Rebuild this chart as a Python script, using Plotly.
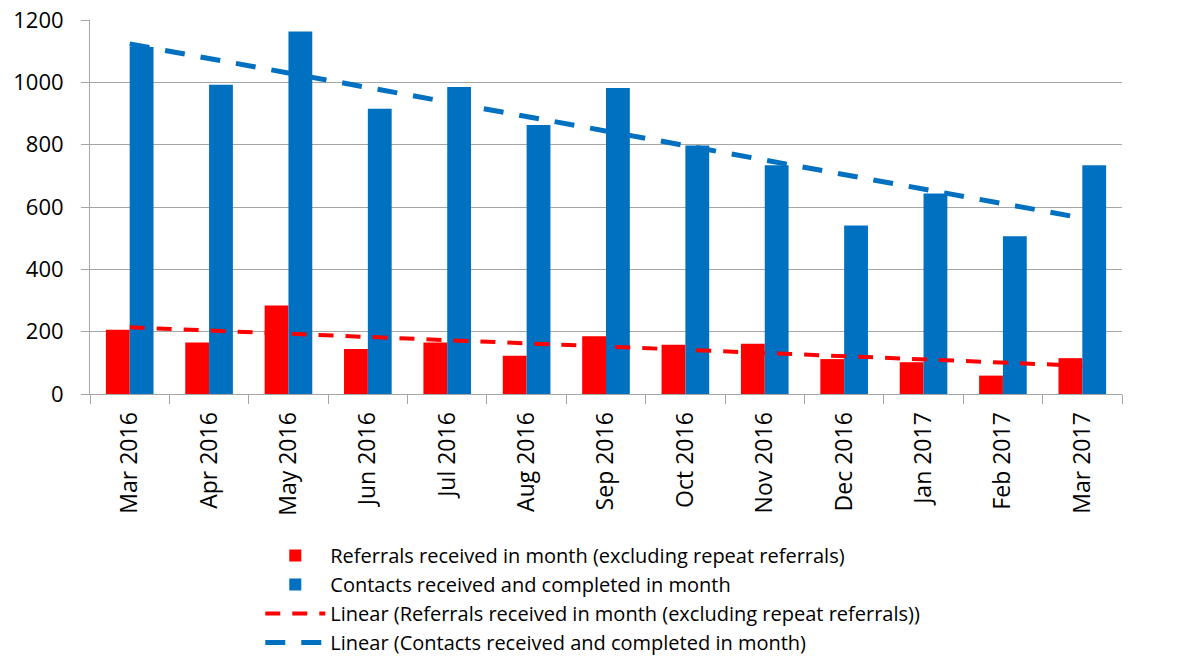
import numpy as np
import plotly.graph_objects as go

months = ["Mar 2016", "Apr 2016", "May 2016", "Jun 2016", "Jul 2016", "Aug 2016",
          "Sep 2016", "Oct 2016", "Nov 2016", "Dec 2016", "Jan 2017", "Feb 2017", "Mar 2017"]
referrals = [206, 165, 284, 144, 165, 123, 185, 158, 161, 112, 102, 59, 115]
contacts = [1113, 992, 1163, 915, 985, 863, 982, 797, 734, 541, 643, 506, 734]

RED = "#FF0000"
BLUE = "#0070C0"
GRID = "#a6a6a6"
FONT = "Open Sans"


def linear_trend(values):
    # same as Excel's linear trendline: least squares on the category index
    idx = np.arange(len(values))
    slope, intercept = np.polyfit(idx, values, 1)
    return slope * idx + intercept


fig = go.Figure()
fig.add_trace(go.Bar(
    x=months, y=referrals,
    name="Referrals received in month (excluding repeat referrals)",
    marker_color=RED, marker_line_width=0,
))
fig.add_trace(go.Bar(
    x=months, y=contacts,
    name="Contacts received and completed in month",
    marker_color=BLUE, marker_line_width=0,
))
fig.add_trace(go.Scatter(
    x=months, y=linear_trend(referrals), mode="lines",
    name="Linear (Referrals received in month (excluding repeat referrals))",
    line=dict(color=RED, width=4, dash="15px,12px"),
))
fig.add_trace(go.Scatter(
    x=months, y=linear_trend(contacts), mode="lines",
    name="Linear (Contacts received and completed in month)",
    line=dict(color=BLUE, width=5, dash="20px,16px"),
))

# page body has an 8px margin, so the figure is sized to fit inside the window
fig.update_layout(
    width=1190, height=651,
    barmode="group", bargap=0.40, bargroupgap=0,
    plot_bgcolor="white", paper_bgcolor="white",
    font=dict(family=FONT, size=21, color="#000000"),
    margin=dict(l=82, r=76, t=12, b=265, autoexpand=False),
    showlegend=True,
    legend=dict(
        orientation="v", x=0.165, y=-0.38, xanchor="left", yanchor="top",
        font=dict(family=FONT, size=20), traceorder="normal",
        itemwidth=60, tracegroupgap=0, bgcolor="rgba(0,0,0,0)",
    ),
    xaxis=dict(
        tickangle=-90, showgrid=False, showline=True, linecolor=GRID,
        ticks="outside", tickson="boundaries", ticklen=9, tickcolor=GRID,
        ticklabelstandoff=8,
        tickfont=dict(family=FONT, size=23), automargin=False,
    ),
    yaxis=dict(
        range=[0, 1200], dtick=200, showgrid=True, gridcolor=GRID,
        showline=True, linecolor=GRID, ticks="outside", ticklen=8,
        tickcolor=GRID, zeroline=False, ticklabelstandoff=13,
        ticklabeloverflow="allow",
        tickfont=dict(family=FONT, size=22), automargin=False,
    ),
)

fig.write_html("out.html")
